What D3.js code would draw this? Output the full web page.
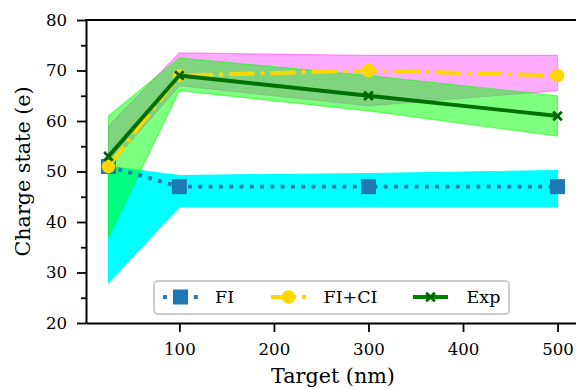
<!DOCTYPE html>
<html>
<head>
<meta charset="utf-8">
<script src="https://cdn.jsdelivr.net/npm/d3@7"></script>
<style>
  body { margin: 0; background: #fff; }
  svg { display: block; font-family: "DejaVu Serif", serif; }
</style>
</head>
<body>
<svg id="chart" width="576" height="389"></svg>
<script>
// target thickness (nm)
const targets = [25, 100, 300, 500];

// FI
const fiVals = [51, 47, 47, 47];
const fiLow = [28, 43, 43, 43];
const fiHigh = [51, 49.2, 49.6, 50.2];

// FI+CI
const fciVals = [51, 69, 70, 69];
const fciLow = [51, 67, 63, 66];
const fciHigh = [59, 73.5, 73, 73];

// Exp
const expVals = [53, 69, 65, 61];
const expLow = [37, 66, 62, 57];
const expHigh = [61, 72.5, 69, 65];

const yTicks = [20, 30, 40, 50, 60, 70, 80];
const yMinor = [25, 35, 45, 55, 65, 75];
const xTicks = [100, 200, 300, 400, 500];

const mLeft = 86, mRight = 580, mTop = 20, mBottom = 323;
const fs = 16.6;
const labelFs = 20.7;

const svg = d3.select("#chart");

const xScale = d3.scaleLinear([1.25, 523.75], [mLeft, mRight]);
const yScale = d3.scaleLinear([20, 80], [mBottom, mTop]);

const bands = [
  {low: fiLow, high: fiHigh, color: "#00ffff", opacity: 1},
  {low: fciLow, high: fciHigh, color: "#ff00ff", opacity: 0.33},
  {low: expLow, high: expHigh, color: "#00ff00", opacity: 0.5}
];

const series = [
  {name: "FI", vals: fiVals, color: "#1f77b4", dash: "3.9,6.4", marker: "square"},
  {name: "FI+CI", vals: fciVals, color: "#ffd700", dash: "25,6.2,3.9,6.2", marker: "circle"},
  {name: "Exp", vals: expVals, color: "#007000", dash: null, marker: "cross"}
];

const plot = svg.append("g");

// shaded ranges
bands.forEach(b => {
  const area = d3.area()
    .x((d, i) => xScale(targets[i]))
    .y0((d, i) => yScale(b.low[i]))
    .y1((d, i) => yScale(b.high[i]));
  plot.append("path")
    .datum(targets)
    .attr("d", area)
    .attr("fill", b.color)
    .attr("fill-opacity", b.opacity)
    .attr("stroke", b.color)
    .attr("stroke-opacity", b.opacity)
    .attr("stroke-width", 1.2);
});

function drawMarker(g, type, x, y, color) {
  if (type === "square") {
    g.append("rect")
      .attr("x", x - 7.5).attr("y", y - 7.5)
      .attr("width", 15).attr("height", 15)
      .attr("fill", color);
  } else if (type === "circle") {
    g.append("circle")
      .attr("cx", x).attr("cy", y).attr("r", 6.8)
      .attr("fill", color);
  } else {
    const s = 4.3;
    g.append("path")
      .attr("d", `M${x - s},${y - s}L${x + s},${y + s}M${x - s},${y + s}L${x + s},${y - s}`)
      .attr("stroke", "#006400")
      .attr("stroke-width", 2.8)
      .attr("fill", "none");
  }
}

// lines with markers
series.forEach(s => {
  const line = d3.line()
    .x((d, i) => xScale(targets[i]))
    .y(d => yScale(d));
  plot.append("path")
    .datum(s.vals)
    .attr("d", line)
    .attr("fill", "none")
    .attr("stroke", s.color)
    .attr("stroke-width", 3.9)
    .attr("stroke-dasharray", s.dash)
    .attr("stroke-linejoin", "round");
  s.vals.forEach((v, i) => drawMarker(plot, s.marker, xScale(targets[i]), yScale(v), s.color));
});

// axes
svg.append("g")
  .attr("transform", `translate(${mLeft},0)`)
  .call(d3.axisLeft(yScale).tickValues(yTicks).tickSize(9).tickSizeOuter(0).tickPadding(10));
svg.append("g")
  .attr("transform", `translate(${mLeft},0)`)
  .call(d3.axisLeft(yScale).tickValues(yMinor).tickSize(5).tickSizeOuter(0).tickFormat(""))
  .call(g => g.select(".domain").remove());

svg.append("g")
  .attr("transform", `translate(0,${mBottom})`)
  .call(d3.axisBottom(xScale).tickValues(xTicks).tickSize(9).tickSizeOuter(0).tickPadding(11));

svg.selectAll(".tick line").attr("stroke", "#000").attr("stroke-width", 1.8);
svg.selectAll(".domain").attr("stroke", "#000").attr("stroke-width", 2);
svg.selectAll(".tick text")
  .attr("font-family", "DejaVu Serif")
  .attr("font-size", fs)
  .attr("fill", "#000");

// top and right spines
svg.append("line")
  .attr("x1", mLeft - 1).attr("x2", mRight + 1)
  .attr("y1", mTop).attr("y2", mTop)
  .attr("stroke", "#000").attr("stroke-width", 2);
svg.append("line")
  .attr("x1", mRight).attr("x2", mRight)
  .attr("y1", mTop).attr("y2", mBottom)
  .attr("stroke", "#000").attr("stroke-width", 2);

// axis labels
svg.append("text")
  .attr("transform", `translate(30,${(mTop + mBottom) / 2}) rotate(-90)`)
  .attr("text-anchor", "middle")
  .attr("font-size", labelFs)
  .text("Charge state (e)");
svg.append("text")
  .attr("x", (mLeft + mRight) / 2)
  .attr("y", 383)
  .attr("text-anchor", "middle")
  .attr("font-size", labelFs)
  .text("Target (nm)");

// legend
const legend = svg.append("g");
legend.append("rect")
  .attr("x", 154).attr("y", 281)
  .attr("width", 355).attr("height", 33)
  .attr("rx", 4)
  .attr("fill", "#fff").attr("fill-opacity", 0.8)
  .attr("stroke", "#cccccc").attr("stroke-width", 2);

const legendX = [163, 271, 413];
const legendText = [215, 323.5, 466.5];
const legendY = 297;
series.forEach((s, i) => {
  const x0 = legendX[i], x1 = x0 + 35;
  legend.append("line")
    .attr("x1", x0).attr("x2", x1)
    .attr("y1", legendY).attr("y2", legendY)
    .attr("stroke", s.marker === "cross" ? "#008000" : s.color)
    .attr("stroke-width", 3.9)
    .attr("stroke-dasharray", s.dash);
  drawMarker(legend, s.marker, (x0 + x1) / 2, legendY, s.color);
  legend.append("text")
    .attr("x", legendText[i])
    .attr("y", 302.7)
    .attr("font-size", 17.5)
    .text(s.name);
});
</script>
</body>
</html>
